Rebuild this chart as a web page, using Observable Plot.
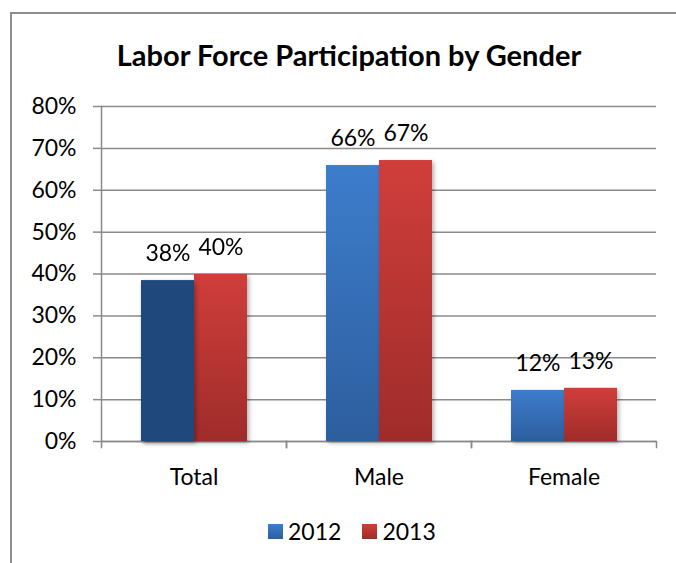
<!DOCTYPE html>
<html>
<head>
<meta charset="utf-8">
<script src="https://cdn.jsdelivr.net/npm/d3@7"></script>
<script src="https://cdn.jsdelivr.net/npm/@observablehq/plot@0.6"></script>
<style>
html, body { margin: 0; padding: 0; background: #fff; overflow: hidden; }
#page { position: relative; width: 676px; height: 563px; overflow: hidden; font-family: Lato, "Open Sans", sans-serif; color: #000; }
#border { position: absolute; left: 10px; top: 12px; width: 720px; height: 620px; border: 2px solid #8d8d8d; box-sizing: border-box; }
#title { position: absolute; left: 0; width: 698px; top: 40px; text-align: center; font-weight: bold; font-size: 29px; line-height: 30px; white-space: nowrap; }
#plot { position: absolute; left: 0; top: 0; }
#legend { position: absolute; left: 268px; top: 520px; display: flex; align-items: center; font-size: 23px; line-height: 23px; }
.item { display: flex; align-items: center; margin-right: 21px; }
.sw { width: 15px; height: 15px; margin-right: 5px; }
svg g[aria-label="bar"] { filter: drop-shadow(2px 2px 2px rgba(0,0,0,0.3)); }
</style>
</head>
<body>
<div id="page">
  <div id="border"></div>
  <div id="title">Labor Force Participation by Gender</div>
  <div id="plot"></div>
  <div id="legend"></div>
</div>
<script>
// ---- data ----
const categories = ["Total", "Male", "Female"];
const years = [2012, 2013];
const values2012 = [38.4, 65.9, 12.2];
const values2013 = [39.9, 67.1, 12.7];
const yTicks = [0, 10, 20, 30, 40, 50, 60, 70, 80];
const highlightColor = "#1F497D";

const data = categories.flatMap((c, i) => [
  { category: c, year: 2012, value: values2012[i] },
  { category: c, year: 2013, value: values2013[i] }
]);

const grey = "#8a8a8a";

const chart = Plot.plot({
  width: 676,
  height: 500,
  marginTop: 106,
  marginBottom: 59,
  marginLeft: 100,
  marginRight: 20,
  style: { fontFamily: "Lato, 'Open Sans', sans-serif", fontSize: "23px", color: "#000", background: "transparent", overflow: "visible" },
  fx: { domain: categories, padding: 0, label: null },
  x: { domain: years, paddingInner: 0, paddingOuter: 0.732, axis: null },
  y: { domain: [0, 80], label: null },
  marks: [
    Plot.gridY(yTicks, { stroke: grey, strokeOpacity: 1, strokeWidth: 1.5 }),
    Plot.axisY(yTicks, { tickSize: 8, tickPadding: 17, tickFormat: d => d + "%", stroke: grey, strokeWidth: 1.5, label: null, fontSize: 23 }),
    Plot.axisFx({ anchor: "bottom", tickSize: 0, tickPadding: 27, label: null, fontSize: 23 }),
    Plot.ruleY([0], { stroke: grey, strokeWidth: 1.5 }),
    Plot.frame({ anchor: "left", facet: "super", stroke: grey, strokeWidth: 1.5 }),
    Plot.frame({ anchor: "left", insetTop: 335, insetBottom: -6, stroke: grey, strokeWidth: 1.5 }),
    Plot.frame({ anchor: "right", insetTop: 335, insetBottom: -6, stroke: grey, strokeWidth: 1.5 }),
    Plot.barY(data.filter(d => d.year === 2012), { fx: "category", x: "year", y: "value", fill: "url(#gBlue)" }),
    Plot.barY(data.filter(d => d.year === 2013), { fx: "category", x: "year", y: "value", fill: "url(#gRed)" }),
    Plot.barY(data.filter(d => d.year === 2012 && d.category === "Total"), { fx: "category", x: "year", y: "value", fill: highlightColor }),
    Plot.text(data, { fx: "category", x: "year", y: "value", text: d => Math.round(d.value) + "%", dy: -27, fontSize: 23, fill: "#000" })
  ]
});

// gradients for bars
const svgRoot = chart.tagName.toLowerCase() === "svg" ? chart : chart.querySelector("svg");
const defs = d3.select(svgRoot).insert("defs", ":first-child");
function grad(id, top, bottom) {
  const g = defs.append("linearGradient").attr("id", id).attr("x1", 0).attr("y1", 0).attr("x2", 0).attr("y2", 1);
  g.append("stop").attr("offset", "0%").attr("stop-color", top);
  g.append("stop").attr("offset", "100%").attr("stop-color", bottom);
}
grad("gBlue", "#3D7DCC", "#2D5E9E");
grad("gRed", "#D03E3B", "#9F2C2A");

document.getElementById("plot").appendChild(chart);

// legend
const legend = d3.select("#legend");
const legendGrad = { 2012: "linear-gradient(#3D7DCC, #2D5E9E)", 2013: "linear-gradient(#D03E3B, #9F2C2A)" };
years.forEach(y => {
  const it = legend.append("div").attr("class", "item");
  it.append("div").attr("class", "sw").style("background", legendGrad[y]);
  it.append("span").text(y);
});
</script>
</body>
</html>
